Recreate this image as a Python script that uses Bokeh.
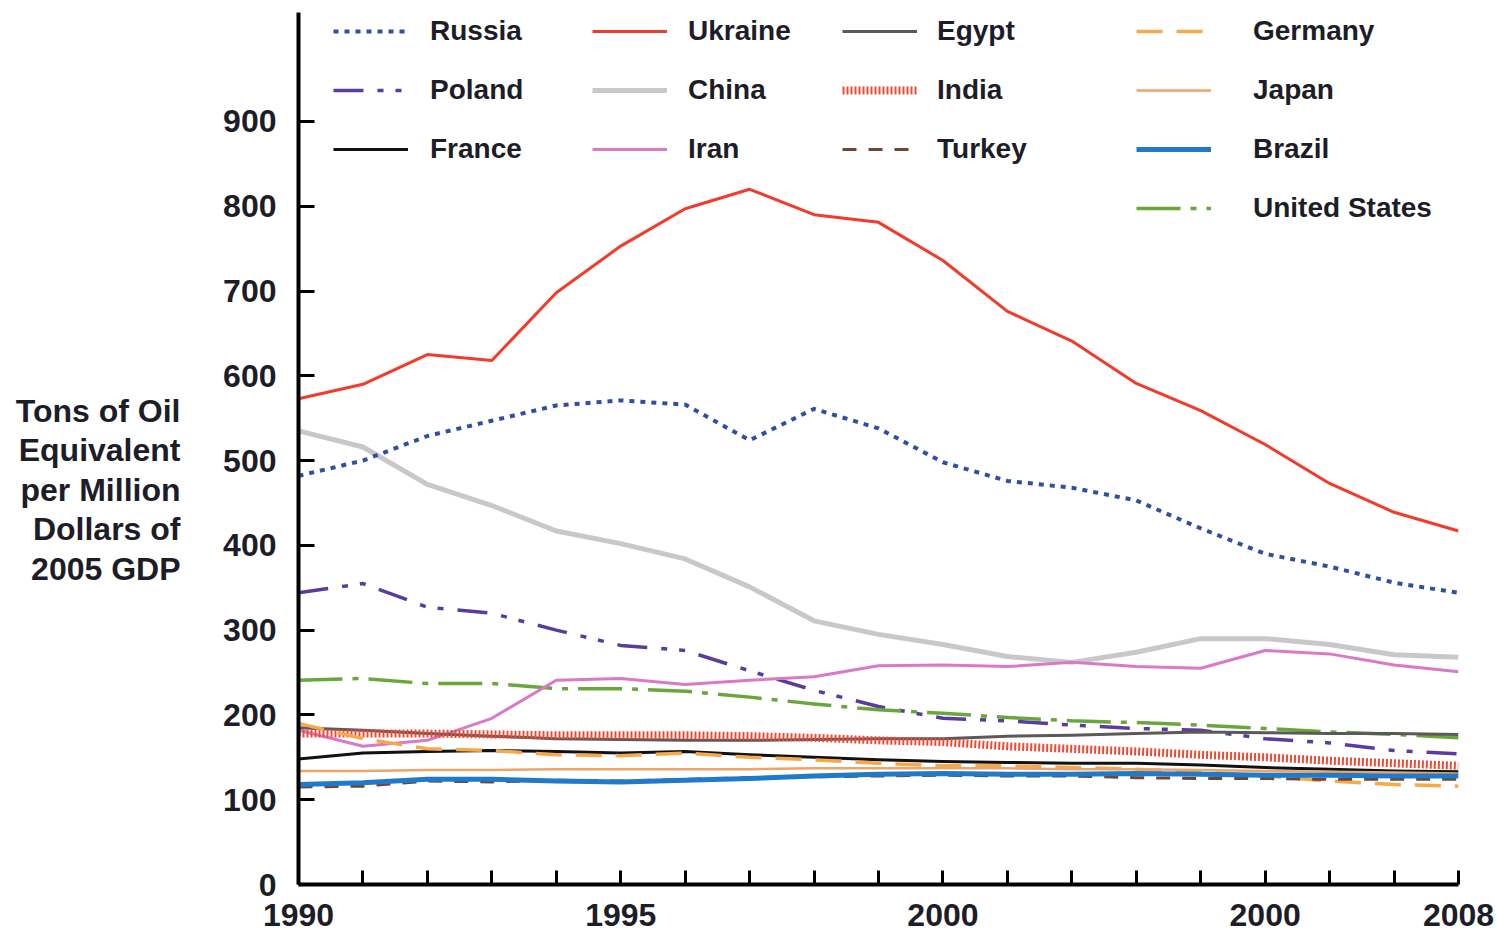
from bokeh.plotting import figure
from bokeh.layouts import row
from bokeh.models import Range1d, FixedTicker, Legend, LegendItem, Label
from bokeh.embed import file_html
from bokeh.resources import INLINE

# ---------------- data ----------------
years = list(range(1990, 2009))

russia = [482, 500, 529, 547, 565, 571, 566, 524, 561, 538, 498, 476, 468, 453, 420, 390, 375, 356, 344]
ukraine = [573, 590, 625, 618, 698, 753, 797, 820, 790, 781, 736, 676, 641, 591, 559, 519, 473, 439, 417]
egypt = [185, 182, 178, 175, 172, 171, 170, 170, 171, 172, 172, 175, 176, 178, 180, 179, 178, 178, 177]
germany = [190, 172, 160, 158, 153, 152, 155, 150, 147, 143, 140, 140, 138, 136, 133, 128, 122, 118, 116]
poland = [344, 355, 327, 320, 300, 282, 276, 252, 229, 210, 196, 193, 188, 184, 182, 172, 167, 158, 154]
china = [535, 516, 472, 447, 417, 402, 384, 351, 311, 295, 283, 269, 262, 274, 290, 290, 283, 271, 268]
india = [178, 178, 178, 177, 176, 176, 176, 175, 173, 170, 168, 163, 160, 157, 153, 150, 146, 143, 140]
japan = [134, 134, 135, 135, 136, 136, 136, 136, 137, 137, 137, 137, 136, 136, 135, 134, 133, 132, 131]
france = [148, 155, 157, 158, 157, 155, 157, 153, 150, 147, 145, 144, 143, 143, 141, 138, 136, 134, 133]
iran = [182, 163, 170, 196, 241, 243, 236, 241, 245, 258, 259, 257, 262, 257, 255, 276, 272, 259, 251]
turkey = [115, 116, 122, 121, 123, 122, 124, 126, 127, 128, 129, 128, 128, 126, 125, 125, 124, 124, 124]
brazil = [118, 120, 124, 124, 122, 121, 123, 125, 128, 130, 131, 130, 130, 131, 130, 129, 129, 128, 128]
united_states = [241, 243, 237, 237, 231, 231, 228, 221, 213, 206, 202, 197, 193, 191, 188, 184, 180, 177, 173]

x_tick_labels = {1990: "1990", 1995: "1995", 2000: "2000", 2005: "2000", 2008: "2008"}
y_ticks = [0, 100, 200, 300, 400, 500, 600, 700, 800, 900]
y_title_lines = ["Tons of Oil", "Equivalent", "per Million", "Dollars of", "2005 GDP"]

series = {
    "Russia": russia, "Ukraine": ukraine, "Egypt": egypt, "Germany": germany,
    "Poland": poland, "China": china, "India": india, "Japan": japan,
    "France": france, "Iran": iran, "Turkey": turkey, "Brazil": brazil,
    "United States": united_states,
}

# ---------------- styles ----------------
styles = {
    "China": dict(color="#c8c8c8", width=5, dash="solid"),
    "Russia": dict(color="#2f4f9f", width=4, dash="5 6"),
    "Ukraine": dict(color="#f23b2c", width=3, dash="solid"),
    "Poland": dict(color="#5a3c9e", width=3.5, dash="30 14 6 12 6 14"),
    "United States": dict(color="#6aa63c", width=3.5, dash="44 10 6 10"),
    "Iran": dict(color="#d87ac6", width=3, dash="solid"),
    "Egypt": dict(color="#5a5a5a", width=3, dash="solid"),
    "India": dict(color="#ee4a35", width=8, dash="2 2"),
    "France": dict(color="#111111", width=3, dash="solid"),
    "Germany": dict(color="#f5a94a", width=3.5, dash="26 14"),
    "Japan": dict(color="#eaa66a", width=2.5, dash="solid"),
    "Brazil": dict(color="#1f7acb", width=5, dash="solid"),
    "Turkey": dict(color="#6e4635", width=3, dash="14 12"),
}
draw_order = ["China", "Russia", "Ukraine", "Poland", "United States", "Iran", "Egypt",
              "India", "France", "Germany", "Japan", "Turkey", "Brazil"]

FONT = "Liberation Sans"
TXT = "#1d1d28"
TOTAL_H = 933
LEFT_W = 210
TOP_B = 12
BOT_B = 49

# ---------------- left panel with the y-axis title ----------------
pt = figure(width=LEFT_W, height=TOTAL_H, x_range=Range1d(0, 1), y_range=Range1d(0, 1),
            output_backend="svg", toolbar_location=None, x_axis_type=None, y_axis_type=None,
            min_border_left=0, min_border_right=0, min_border_top=TOP_B, min_border_bottom=BOT_B)
pt.outline_line_color = None
pt.grid.visible = False
frame_bottom = TOTAL_H - BOT_B
for i, line in enumerate(y_title_lines):
    pt.add_layout(Label(x=180, y=(frame_bottom - 410) - 39.5 * i, x_units="screen", y_units="screen",
                        text=line, text_align="right", text_baseline="middle", text_font=FONT,
                        text_font_style="bold", text_font_size="32px", text_color=TXT))

# ---------------- main chart ----------------
p = figure(width=1496 - LEFT_W, height=TOTAL_H, x_range=Range1d(1990, 2008),
           y_range=Range1d(0, 1028.5), output_backend="svg", toolbar_location=None,
           min_border_left=298 - LEFT_W, min_border_right=38, min_border_top=TOP_B,
           min_border_bottom=BOT_B)
p.outline_line_color = None
p.grid.visible = False
p.background_fill_color = "white"

renderers = {}
for name in draw_order:
    st = styles[name]
    renderers[name] = p.line(years, series[name], line_color=st["color"], line_width=st["width"],
                             line_dash=st["dash"], line_join="round")

xa = p.xaxis[0]
xa.ticker = FixedTicker(ticks=years)
xa.major_label_overrides = {y: x_tick_labels.get(y, "") for y in years}
xa.axis_line_width = 4
xa.axis_line_color = "black"
xa.major_tick_in = 14
xa.major_tick_out = 0
xa.major_tick_line_width = 3
xa.minor_tick_line_color = None
xa.major_label_standoff = 19
xa.major_label_text_font = FONT
xa.major_label_text_font_style = "bold"
xa.major_label_text_font_size = "32px"
xa.major_label_text_color = TXT

ya = p.yaxis[0]
ya.ticker = FixedTicker(ticks=y_ticks)
ya.axis_line_width = 4
ya.axis_line_color = "black"
ya.major_tick_in = 16
ya.major_tick_out = 0
ya.major_tick_line_width = 3
ya.minor_tick_line_color = None
ya.major_label_standoff = 22
ya.major_label_text_font = FONT
ya.major_label_text_font_style = "bold"
ya.major_label_text_font_size = "32px"
ya.major_label_text_color = TXT

# legends: four columns
legend_cols = [["Russia", "Poland", "France"],
               ["Ukraine", "China", "Iran"],
               ["Egypt", "India", "Turkey"],
               ["Germany", "Japan", "Brazil", "United States"]]
col_x = [35, 294, 544, 838]
col_standoff = [22, 21, 20, 42]
item_h = 34
gap = 25
frame_h = TOTAL_H - TOP_B - BOT_B
for names, cx, so in zip(legend_cols, col_x, col_standoff):
    n = len(names)
    h = n * item_h + (n - 1) * gap
    leg = Legend(items=[LegendItem(label=nm, renderers=[renderers[nm]]) for nm in names],
                 location=(cx, frame_h - 2 - h), orientation="vertical",
                 padding=0, margin=0, spacing=gap, label_standoff=so,
                 glyph_width=75, glyph_height=item_h, label_height=item_h,
                 label_text_font=FONT, label_text_font_style="bold",
                 label_text_font_size="28px", label_text_color=TXT,
                 background_fill_alpha=0, border_line_alpha=0)
    p.add_layout(leg)

layout = row(pt, p, spacing=0)
open("out.html", "w").write(file_html(layout, INLINE))
